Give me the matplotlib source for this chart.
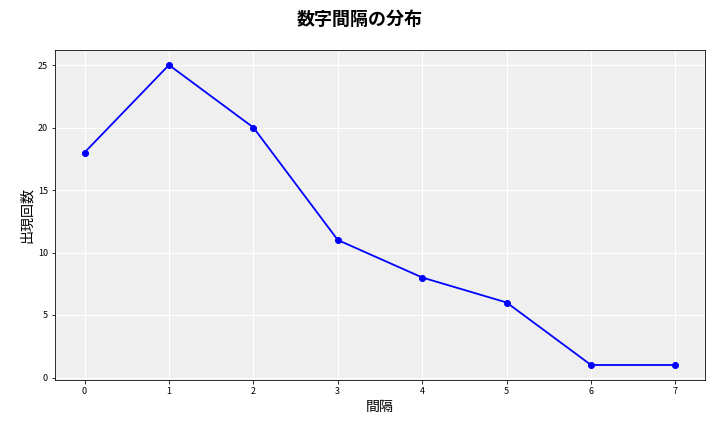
import matplotlib
matplotlib.use("Agg")
import matplotlib.pyplot as plt

plt.rcParams['font.family'] = ['Noto Sans CJK JP', 'DejaVu Sans']

gaps = [0, 1, 2, 3, 4, 5, 6, 7]
counts = [18, 25, 20, 11, 8, 6, 1, 1]

fig = plt.figure(figsize=(10, 6), dpi=72)
ax = fig.add_axes([55/720, 52/432, 650/720, 330/432])
ax.set_facecolor('#efefef')
ax.grid(True, color='white', linewidth=1)
ax.set_axisbelow(True)
ax.plot(gaps, counts, color='blue', marker='o', markersize=6, linewidth=1.8)
ax.set_xticks(gaps)
ax.set_yticks([0, 5, 10, 15, 20, 25])
ax.tick_params(labelsize=9)
ax.set_xlabel('間隔', fontsize=14)
ax.set_ylabel('出現回数', fontsize=14)
fig.suptitle('数字間隔の分布', fontsize=18, fontweight='bold', y=0.975)
fig.savefig('out.png', dpi=72)
